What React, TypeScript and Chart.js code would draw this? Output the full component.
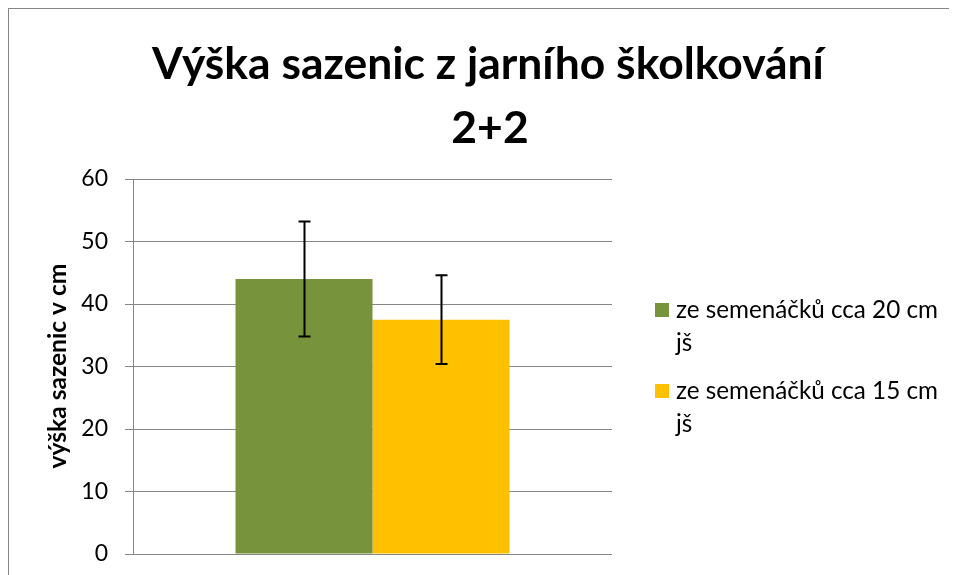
import React, { useEffect, useRef } from "react";
import { Chart, registerables } from "chart.js";

Chart.register(...registerables);

const categories = [""];
const titleLines = ["Výška sazenic z jarního školkování", "2+2"];
const yAxisTitle = "výška sazenic v cm";
const seriesNames = ["ze semenáčků cca 20 cm jš", "ze semenáčků cca 15 cm jš"];
const legendLines = [
  ["ze semenáčků cca 20 cm", "jš"],
  ["ze semenáčků cca 15 cm", "jš"],
];
const series20 = [44.0];
const series15 = [37.5];
const err20 = [9.2];
const err15 = [7.1];
const seriesColors = ["#77933C", "#FFC000"];
const yMin = 0;
const yMax = 60;
const yStep = 10;

const FONT = "Lato, 'Open Sans', sans-serif";

function fitSize(ctx: CanvasRenderingContext2D, text: string, weight: string, width: number) {
  ctx.font = `${weight} 100px ${FONT}`;
  const w = ctx.measureText(text).width;
  return (100 * width) / w;
}

const errorBars = {
  id: "errorBars",
  afterDatasetsDraw(chart: any) {
    const ctx = chart.ctx as CanvasRenderingContext2D;
    const y = chart.scales.y;
    const errs = [err20, err15];
    chart.data.datasets.forEach((ds: any, di: number) => {
      const meta = chart.getDatasetMeta(di);
      meta.data.forEach((bar: any, i: number) => {
        const v = ds.data[i];
        const e = errs[di][i];
        const yTop = y.getPixelForValue(v + e);
        const yBot = y.getPixelForValue(v - e);
        const x = Math.round(bar.x) + 0.5;
        ctx.save();
        ctx.strokeStyle = "#000";
        ctx.lineWidth = 2;
        ctx.beginPath();
        ctx.moveTo(x, yTop);
        ctx.lineTo(x, yBot);
        ctx.moveTo(x - 6, yTop);
        ctx.lineTo(x + 6, yTop);
        ctx.moveTo(x - 6, yBot);
        ctx.lineTo(x + 6, yBot);
        ctx.stroke();
        ctx.restore();
      });
    });
  },
};

const decorations = {
  id: "decorations",
  afterDraw(chart: any) {
    const ctx = chart.ctx as CanvasRenderingContext2D;
    ctx.save();
    ctx.fillStyle = "#000";
    // Title
    const tSize = fitSize(ctx, titleLines[0], "bold", 672);
    ctx.font = `bold ${tSize}px ${FONT}`;
    ctx.textAlign = "center";
    ctx.textBaseline = "alphabetic";
    ctx.fillText(titleLines[0], 479, 70);
    ctx.fillText(titleLines[1], 481, 134);

    // Y axis title
    const ySize = fitSize(ctx, yAxisTitle, "bold", 205);
    ctx.font = `bold ${ySize}px ${FONT}`;
    ctx.save();
    ctx.translate(49, 357);
    ctx.rotate(-Math.PI / 2);
    ctx.textAlign = "center";
    ctx.textBaseline = "middle";
    ctx.fillText(yAxisTitle, 0, 0);
    ctx.restore();

    // Legend
    const lSize = fitSize(ctx, legendLines[0][0], "normal", 262);
    ctx.font = `normal ${lSize}px ${FONT}`;
    ctx.textAlign = "left";
    ctx.textBaseline = "alphabetic";
    const itemTops = [294, 375];
    legendLines.forEach((lines, i) => {
      const top = itemTops[i];
      ctx.fillStyle = seriesColors[i];
      ctx.fillRect(646, top, 14, 14);
      ctx.fillStyle = "#000";
      lines.forEach((ln, j) => {
        ctx.fillText(ln, 667, top + 15 + j * 33);
      });
    });
    ctx.restore();
  },
};

export default function App() {
  const ref = useRef<HTMLCanvasElement | null>(null);
  useEffect(() => {
    if (!ref.current) return;
    const chart = new Chart(ref.current, {
      type: "bar",
      data: {
        labels: categories,
        datasets: [
          {
            label: seriesNames[0],
            data: series20,
            backgroundColor: seriesColors[0],
            borderWidth: 0,
          },
          {
            label: seriesNames[1],
            data: series15,
            backgroundColor: seriesColors[1],
            borderWidth: 0,
          },
        ],
      },
      options: {
        animation: false,
        responsive: false,
        maintainAspectRatio: false,
        datasets: {
          bar: { categoryPercentage: 0.572, barPercentage: 1 },
        } as any,
        layout: { padding: { top: 170, right: 345, bottom: 21, left: 0 } },
        plugins: {
          legend: { display: false },
          title: { display: false },
          tooltip: { enabled: false },
        },
        scales: {
          x: {
            ticks: { display: false },
            grid: { display: false },
            border: { display: false },
            afterFit: (s: any) => {
              s.height = 0;
              s.paddingLeft = 0;
              s.paddingRight = 0;
            },
          },
          y: {
            min: yMin,
            max: yMax,
            ticks: {
              stepSize: yStep,
              color: "#000",
              padding: 17,
              font: { family: FONT, size: 23 },
            },
            grid: { color: "#868686", lineWidth: 1, tickLength: 8, drawTicks: true },
            border: { display: true, color: "#868686", width: 1 },
            afterFit: (s: any) => {
              s.width = 124;
              s.paddingTop = 0;
              s.paddingBottom = 0;
            },
          },
        },
      },
      plugins: [errorBars, decorations],
    });
    return () => chart.destroy();
  }, []);
  return (
    <div
      style={{
        width: 949,
        height: 567,
        boxSizing: "border-box",
        borderTop: "1px solid #868686",
        borderLeft: "1px solid #868686",
        background: "#fff",
      }}
    >
      <canvas ref={ref} width={948} height={566} style={{ display: "block" }} />
    </div>
  );
}
